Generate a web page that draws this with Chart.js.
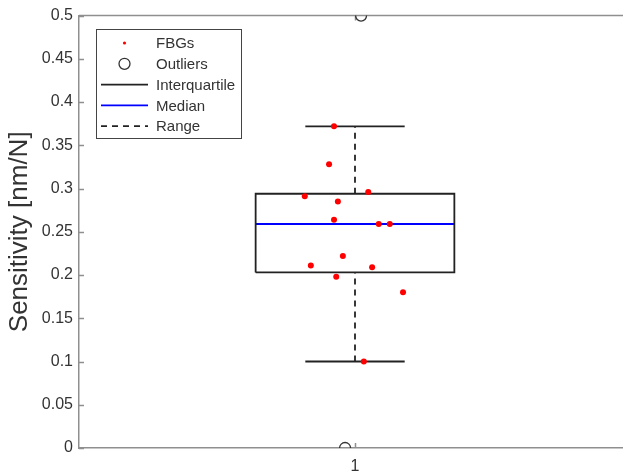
<!DOCTYPE html>
<html>
<head>
<meta charset="utf-8">
<script src="https://cdn.jsdelivr.net/npm/chart.js@4.4.0/dist/chart.umd.min.js"></script>
<style>
    html, body { margin: 0; padding: 0; background: #fff; overflow: hidden; }
    #wrap { width: 623px; height: 474px; overflow: hidden; }
</style>
</head>
<body>
<div id="wrap"><canvas id="boxChart" width="632" height="474"></canvas></div>
<script>
// FBG sensitivities, x carries the small jitter used in the plot
const fbgX = [0.962, 0.953, 1.024, 0.909, 0.969, 0.962, 1.043, 1.063, 0.978, 0.920, 1.031, 0.966, 1.087, 1.016];
const fbgY = [0.372, 0.328, 0.296, 0.291, 0.285, 0.264, 0.259, 0.259, 0.222, 0.211, 0.209, 0.198, 0.180, 0.100];
const outlierX = [1.011, 0.982];
const outlierY = [0.5, 0];
// lower whisker, Q1, median, Q3, upper whisker
const boxStats = [0.100, 0.203, 0.259, 0.294, 0.372];
const categories = [1];
const xTickLabels = ['1'];
const yTicks = [0, 0.05, 0.1, 0.15, 0.2, 0.25, 0.3, 0.35, 0.4, 0.45, 0.5];
const yTickLabels = ['0', '0.05', '0.1', '0.15', '0.2', '0.25', '0.3', '0.35', '0.4', '0.45', '0.5'];
const legendLabels = ['FBGs', 'Outliers', 'Interquartile', 'Median', 'Range'];

const BOX_HALF = 0.18;
const CAP_HALF = 0.09;
const AXIS = '#8f8f8f';
const TEXT = '#333333';
const FONT = "'Liberation Sans', Arial, sans-serif";

const [lw, q1, med, q3, uw] = boxStats;
const cx = categories[0];

const boxLine = { borderColor: '#222', borderWidth: 1.8, pointRadius: 0, showLine: true, fill: false };

const datasets = [
    {
        label: legendLabels[0],
        data: fbgX.map((x, i) => ({ x, y: fbgY[i] })),
        backgroundColor: '#ff0000',
        borderWidth: 0,
        pointRadius: 3
    },
    {
        label: legendLabels[1],
        data: outlierX.map((x, i) => ({ x, y: outlierY[i] })),
        backgroundColor: 'rgba(0,0,0,0)',
        borderColor: '#333',
        borderWidth: 1.3,
        pointRadius: 5.5
    },
    {
        label: legendLabels[2],
        data: [
            { x: cx - BOX_HALF, y: q1 }, { x: cx + BOX_HALF, y: q1 },
            { x: cx + BOX_HALF, y: q3 }, { x: cx - BOX_HALF, y: q3 },
            { x: cx - BOX_HALF, y: q1 }
        ],
        ...boxLine
    },
    {
        label: legendLabels[3],
        data: [{ x: cx - BOX_HALF, y: med }, { x: cx + BOX_HALF, y: med }],
        ...boxLine,
        borderColor: '#0000ff'
    },
    {
        label: 'upper cap',
        data: [{ x: cx - CAP_HALF, y: uw }, { x: cx + CAP_HALF, y: uw }],
        ...boxLine
    },
    {
        label: 'lower cap',
        data: [{ x: cx - CAP_HALF, y: lw }, { x: cx + CAP_HALF, y: lw }],
        ...boxLine
    },
    {
        label: legendLabels[4],
        data: [{ x: cx, y: q3 }, { x: cx, y: uw }],
        ...boxLine,
        borderDash: [6, 5]
    },
    {
        label: 'lower range',
        data: [{ x: cx, y: lw }, { x: cx, y: q1 }],
        ...boxLine,
        borderDash: [6, 5]
    }
];

// top border and inward ticks, matlab style
const frame = {
    id: 'frame',
    beforeDatasetsDraw(chart) {
        const { ctx, chartArea: a, scales } = chart;
        ctx.save();
        ctx.strokeStyle = AXIS;
        ctx.lineWidth = 1.5;
        ctx.beginPath();
        ctx.moveTo(a.left, a.top);
        ctx.lineTo(a.right, a.top);
        yTicks.forEach(v => {
            const y = Math.round(scales.y.getPixelForValue(v)) + 0.5;
            ctx.moveTo(a.left, y);
            ctx.lineTo(a.left + 5, y);
        });
        categories.forEach(v => {
            const x = Math.round(scales.x.getPixelForValue(v)) + 0.5;
            ctx.moveTo(x, a.bottom);
            ctx.lineTo(x, a.bottom - 5);
            ctx.moveTo(x, a.top);
            ctx.lineTo(x, a.top + 5);
        });
        ctx.stroke();
        ctx.restore();
    }
};

const boxLegend = {
    id: 'boxLegend',
    afterDraw(chart) {
        const ctx = chart.ctx;
        const left = 96, top = 29, w = 145, h = 109;
        ctx.save();
        ctx.fillStyle = '#fff';
        ctx.fillRect(left, top, w, h);
        ctx.strokeStyle = '#444';
        ctx.lineWidth = 1;
        ctx.strokeRect(left + 0.5, top + 0.5, w, h);
        ctx.font = '15px ' + FONT;
        ctx.textBaseline = 'middle';
        legendLabels.forEach((label, i) => {
            const y = top + 14 + i * 20.8;
            const x0 = left + 5, x1 = left + 52, xc = (x0 + x1) / 2;
            ctx.setLineDash([]);
            if (i === 0) {
                ctx.fillStyle = '#ff0000';
                ctx.beginPath();
                ctx.arc(xc, y, 1.6, 0, Math.PI * 2);
                ctx.fill();
            } else if (i === 1) {
                ctx.strokeStyle = '#333';
                ctx.lineWidth = 1.3;
                ctx.beginPath();
                ctx.arc(xc, y, 5.5, 0, Math.PI * 2);
                ctx.stroke();
            } else {
                ctx.strokeStyle = i === 3 ? '#0000ff' : '#222';
                ctx.lineWidth = 1.8;
                if (i === 4) ctx.setLineDash([6, 5]);
                ctx.beginPath();
                ctx.moveTo(x0, y);
                ctx.lineTo(x1, y);
                ctx.stroke();
            }
            ctx.fillStyle = TEXT;
            ctx.fillText(label, left + 60, y + 1);
        });
        ctx.restore();
    }
};

new Chart(document.getElementById('boxChart'), {
    type: 'scatter',
    data: { datasets },
    plugins: [frame, boxLegend],
    options: {
        responsive: false,
        animation: false,
        layout: { autoPadding: false, padding: { top: 13, right: 1, left: 0, bottom: 0 } },
        plugins: {
            legend: { display: false },
            tooltip: { enabled: false }
        },
        scales: {
            x: {
                type: 'linear',
                min: 0.5,
                max: 1.5,
                afterBuildTicks: s => { s.ticks = categories.map(v => ({ value: v })); },
                afterFit: s => { s.height = 26; },
                grid: { drawOnChartArea: false, drawTicks: false },
                border: { color: AXIS, width: 1.5 },
                ticks: {
                    callback: (v, i) => xTickLabels[i],
                    padding: 9,
                    maxRotation: 0,
                    color: TEXT,
                    font: { family: FONT, size: 16 }
                }
            },
            y: {
                min: 0,
                max: 0.5,
                afterBuildTicks: s => { s.ticks = yTicks.map(v => ({ value: v })); },
                afterFit: s => { s.width = 79; },
                grid: { drawOnChartArea: false, drawTicks: false },
                border: { color: AXIS, width: 1.5 },
                ticks: {
                    callback: (v, i) => yTickLabels[i],
                    padding: 6,
                    color: TEXT,
                    font: { family: FONT, size: 16 }
                },
                title: {
                    display: true,
                    text: 'Sensitivity [nm/N]',
                    color: TEXT,
                    font: { family: FONT, size: 26 },
                    padding: { top: 4, bottom: 0 }
                }
            }
        }
    }
});
</script>
</body>
</html>
